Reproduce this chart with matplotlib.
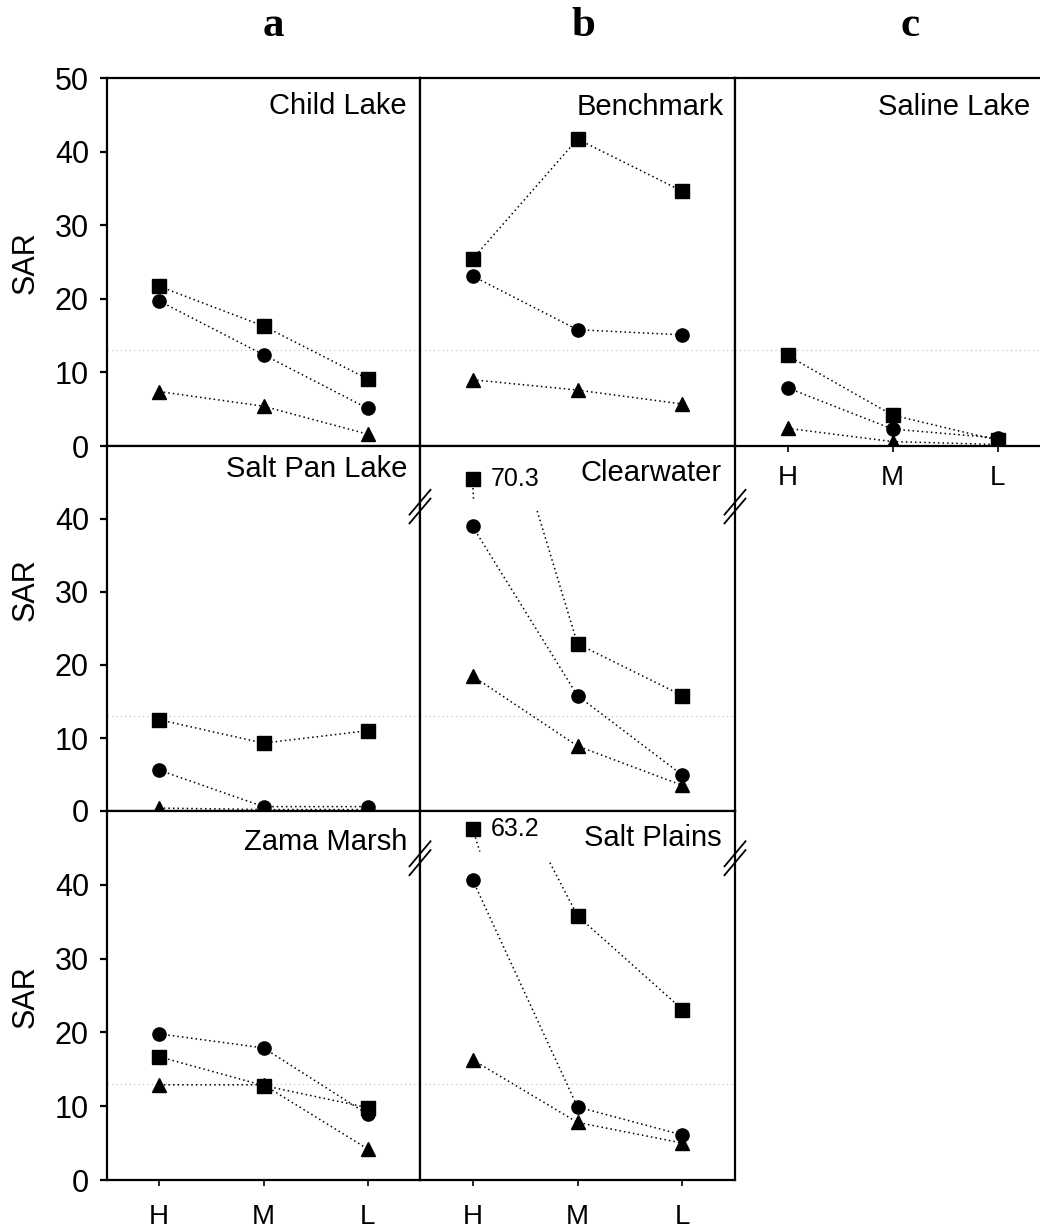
import numpy as np
import matplotlib.pyplot as plt

plt.rcParams['font.family'] = ['Liberation Sans', 'DejaVu Sans']

# SAR at high (H), medium (M) and low (L) positions
levels = ['H', 'M', 'L']

# each site: (squares, circles, triangles)
child_lake = ([21.7, 16.3, 9.1], [19.7, 12.4, 5.1], [7.4, 5.4, 1.6])
salt_pan_lake = ([12.5, 9.3, 11.0], [5.6, 0.6, 0.6], [0.4, 0.2, 0.2])
zama_marsh = ([16.7, 12.8, 9.8], [19.8, 17.9, 8.9], [12.9, 12.9, 4.2])
benchmark = ([25.4, 41.7, 34.6], [23.1, 15.8, 15.1], [9.0, 7.6, 5.7])
clearwater = ([70.3, 22.9, 15.8], [39.0, 15.8, 4.9], [18.5, 8.9, 3.5])
salt_plains = ([63.2, 35.8, 23.1], [40.7, 9.9, 6.1], [16.3, 7.8, 5.0])
saline_lake = ([12.3, 4.2, 0.8], [7.9, 2.3, 1.1], [2.4, 0.6, 0.2])

threshold = 13

W, H = 1040, 1232
fig = plt.figure(figsize=(W / 100, H / 100), dpi=100)

cols = [(107, 420), (420, 735), (735, 1050)]
rows = [(78, 446), (446, 811), (811, 1180)]

markers = [('s', 10), ('o', 9.5), ('^', 10.5)]
dots = dict(color='k', lw=1.1, ls=(0, (1, 2)))
x = np.arange(3)


def make_ax(c, r):
    x0, x1 = cols[c]
    y0, y1 = rows[r]
    ax = fig.add_axes([x0 / W, 1 - y1 / H, (x1 - x0) / W, (y1 - y0) / H])
    ax.set_xlim(-0.5, 2.5)
    ax.set_ylim(0, 50)
    for sp in ax.spines.values():
        sp.set_linewidth(1.6)
    ax.set_xticks([])
    ax.set_yticks([])
    ax.axhline(threshold, color='#b8b8b8', lw=0.8, ls=(0, (1, 3)), zorder=0)
    return ax


def draw_site(ax, site):
    for (m, ms), vals in zip([markers[2], markers[0], markers[1]],
                             [site[2], site[0], site[1]]):
        ax.plot(x, vals, marker=m, ms=ms, mfc='k', mec='k', **dots)


def draw_broken(ax, site, shown, brk, stub_dx):
    sq = site[0]
    lo = brk - 0.6
    t = (sq[0] - lo) / (sq[0] - sq[1])
    ax.plot([t, 1, 2], [lo, sq[1], sq[2]], **dots)
    ax.plot([0, stub_dx], [shown, brk + 0.9], **dots)
    ax.plot(x, [shown, sq[1], sq[2]], ls='none', marker='s', ms=9.5, color='k')
    ax.text(0.17, shown, f'{sq[0]:.1f}', va='center', ha='left', fontsize=18)
    for (m, ms), vals in zip([markers[2], markers[1]], [site[2], site[1]]):
        ax.plot(x, vals, marker=m, ms=ms, mfc='k', mec='k', **dots)
    # axis break marks on both sides
    for xs in (-0.5, 2.5):
        for dy in (-0.6, 0.6):
            ax.plot([xs - 0.1, xs + 0.1], [brk - 1.7 + dy, brk + 1.7 + dy],
                    color='k', lw=1.3, clip_on=False, zorder=5)


def name(ax, text, right_px, top_px):
    w = ax.get_position().width * W
    h = ax.get_position().height * H
    ax.text(1 - right_px / w, 1 - top_px / h, text, ha='right', va='center',
            transform=ax.transAxes, fontsize=21)


def y_axis(ax, top):
    ax.set_yticks(np.arange(0, top + 1, 10))
    ax.tick_params(axis='y', direction='out', length=5, width=1.6,
                   labelsize=22, pad=8)


def x_axis(ax, pad):
    ax.set_xticks(x)
    ax.set_xticklabels(levels)
    ax.tick_params(axis='x', direction='out', length=4, width=1.2,
                   labelsize=20, pad=pad)


ax = make_ax(0, 0)
draw_site(ax, child_lake)
name(ax, 'Child Lake', 13, 28)
y_axis(ax, 50)

ax = make_ax(0, 1)
draw_site(ax, salt_pan_lake)
name(ax, 'Salt Pan Lake', 13, 23)
y_axis(ax, 40)

ax = make_ax(0, 2)
draw_site(ax, zama_marsh)
name(ax, 'Zama Marsh', 13, 31)
y_axis(ax, 40)
x_axis(ax, 13)

ax = make_ax(1, 0)
draw_site(ax, benchmark)
name(ax, 'Benchmark', 11, 29)

ax = make_ax(1, 1)
draw_broken(ax, clearwater, 45.5, 41.7, 0.01)
name(ax, 'Clearwater', 13, 27)

ax = make_ax(1, 2)
draw_broken(ax, salt_plains, 47.6, 43.6, 0.07)
name(ax, 'Salt Plains', 13, 27)
x_axis(ax, 13)

ax = make_ax(2, 0)
draw_site(ax, saline_lake)
name(ax, 'Saline Lake', 20, 29)
x_axis(ax, 10)

for ypx in (263, 590, 997):
    fig.text(26 / W, 1 - ypx / H, 'SAR', rotation=90, ha='center',
             va='center', fontsize=22)

for lab, xpx in zip(['a', 'b', 'c'], [273, 583, 910]):
    fig.text(xpx / W, 1 - 26 / H, lab, ha='center', va='center', fontsize=31,
             fontweight='bold', family=['Liberation Serif', 'DejaVu Serif'])

fig.savefig('out.png', dpi=100)
